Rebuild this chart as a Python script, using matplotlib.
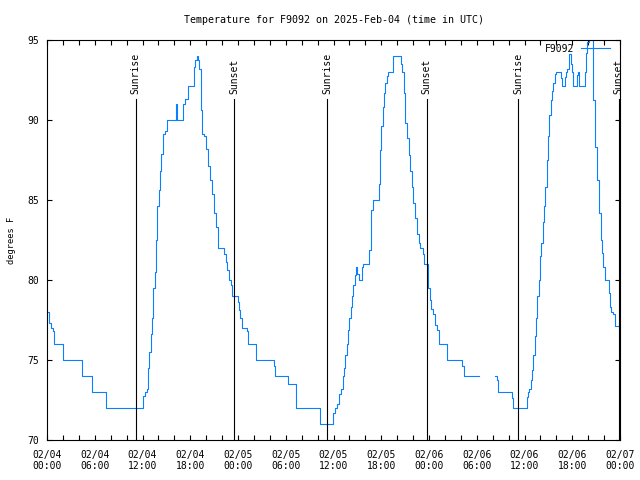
import numpy as np
import pandas as pd
import matplotlib
matplotlib.use("Agg")
import matplotlib.pyplot as plt
import matplotlib.dates as mdates

START = pd.Timestamp("2025-02-04 00:00")
STATION = "F9092"

# hours since 02/04 00:00 UTC, temperature in degrees F (nan = missing data)
hours = [
    0.13, 0.29, 0.50, 0.72, 0.88, 2.05, 4.35, 5.69, 7.41,
    12.10, 12.27, 12.52, 12.69, 12.86, 13.02, 13.19, 13.36, 13.53, 13.69,
    13.86, 14.03, 14.20, 14.36, 14.53, 14.87, 15.12, 16.21, 16.37, 17.13,
    17.38, 17.71, 18.47, 18.63, 18.80, 18.97, 19.14, 19.30, 19.47, 19.72,
    19.97, 20.23, 20.48, 20.73, 20.98, 21.23, 21.48, 22.24, 22.49, 22.65,
    22.82, 23.07, 23.24, 23.99, 24.12, 24.29, 24.54, 25.13, 25.29, 26.30,
    28.56, 28.64, 30.24, 31.24, 31.32, 34.25,
    35.97, 36.14, 36.47, 36.64, 36.90, 37.15, 37.31, 37.48, 37.65, 37.81,
    37.98, 38.15, 38.32, 38.48, 38.65, 38.82, 38.99, 39.16, 39.57, 39.66,
    40.41, 40.49, 40.66, 40.74, 40.91, 40.99, 41.67, 41.83, 42.00, 42.17,
    42.34, 42.50, 42.67, 42.84, 43.51, 44.43, 44.60, 44.85, 45.01, 45.18,
    45.44, 45.60, 45.85, 46.02, 46.27, 46.52, 46.69, 46.86, 47.20, 47.36,
    47.82, 47.90, 48.07, 48.24, 48.49, 48.74, 48.99, 49.25, 50.25, 52.18,
    52.35, 54.27, 54.30, 56.28, 56.53, 56.70, 58.46, 58.54,
    60.26, 60.43, 60.59, 60.76, 60.93, 61.09, 61.26, 61.43, 61.60, 61.77,
    61.93, 62.10, 62.27, 62.44, 62.60, 62.77, 62.94, 63.11, 63.28, 63.44,
    63.61, 63.78, 63.94, 64.53, 64.70, 65.03, 65.20, 65.37, 65.53, 65.62,
    65.79, 65.95, 66.12, 66.54, 66.71, 66.79, 67.55, 67.71, 67.88, 68.05,
    68.47, 68.63, 68.80, 69.05, 69.31, 69.56, 69.72, 69.89, 70.06, 70.56,
    70.73, 70.89, 71.14, 71.32, 71.90,
]
temps = [
    78.0, 77.3, 77.0, 76.8, 76.0, 75.0, 74.0, 73.0, 72.0,
    72.75, 73.0, 73.2, 74.5, 75.5, 76.6, 77.6, 79.5, 80.5, 82.5,
    84.6, 85.6, 86.8, 87.9, 89.1, 89.3, 90.0, 91.0, 90.0, 91.0,
    91.3, 92.1, 93.3, 93.75, 94.0, 93.75, 93.2, 90.6, 89.1, 89.0,
    88.2, 87.1, 86.25, 85.4, 84.2, 83.3, 82.0, 81.6, 81.15, 80.6,
    80.0, 79.7, 79.0, 78.65, 78.13, 77.6, 77.0, 76.8, 76.0, 75.0,
    74.6, 74.0, 73.5, 73.0, 72.0, 71.0,
    71.7, 72.0, 72.25, 72.9, 73.2, 74.0, 74.5, 75.3, 76.0, 76.9,
    77.6, 78.3, 79.0, 79.7, 80.3, 80.8, 80.4, 80.0, 80.8, 81.0,
    81.3, 81.9, 82.9, 84.4, 84.8, 85.0, 86.0, 88.1, 89.6, 90.8,
    91.7, 92.3, 92.75, 93.0, 94.0, 93.5, 93.0, 91.7, 89.8, 88.85,
    87.8, 86.8, 85.8, 84.8, 83.85, 82.9, 82.3, 82.0, 81.6, 81.0,
    80.0, 79.5, 78.75, 78.2, 77.9, 77.2, 76.9, 76.0, 75.0, 74.6,
    74.0, 74.0, np.nan, 74.0, 73.75, 73.0, 72.6, 72.0,
    72.7, 73.0, 73.2, 73.75, 74.4, 75.3, 76.5, 77.6, 79.0, 80.0,
    81.5, 82.3, 83.65, 84.6, 85.8, 87.5, 89.0, 90.3, 91.25, 91.8,
    92.3, 92.9, 93.0, 92.6, 92.1, 92.7, 93.0, 93.2, 93.75, 94.1,
    93.5, 93.0, 92.1, 92.8, 93.0, 92.1, 93.0, 94.2, 94.9, 95.6,
    95.0, 91.25, 88.3, 86.25, 84.2, 82.5, 81.7, 80.8, 80.0, 79.2,
    78.3, 78.0, 77.9, 77.1, 77.1,
]

sunrise_hours = [11.15, 35.18, 59.21]
sunset_hours = [23.55, 47.70, 71.82]

plt.rcParams["font.family"] = "DejaVu Sans Mono"
plt.rcParams["font.size"] = 7

def to_time(h):
    return START + pd.to_timedelta(np.array(h), unit="h")

fig = plt.figure(figsize=(6.4, 4.8), dpi=100)
ax = fig.add_axes([47/640, 40/480, 573/640, 400/480])

ax.plot(to_time(hours), temps, color="#0a80ff", lw=0.8,
        drawstyle="steps-post", label=STATION)

# sunrise / sunset markers
for lst, name in ((sunrise_hours, "Sunrise"), (sunset_hours, "Sunset")):
    for t in to_time(lst):
        ax.plot([t, t], [70, 91.3], color="black", lw=0.8)
        ax.text(t, 91.6, name, rotation=90, ha="center", va="bottom")

ax.set_xlim(to_time([0])[0], to_time([72])[0])
ax.set_ylim(70, 95)
ax.set_yticks(range(70, 96, 5))

ax.xaxis.set_major_locator(mdates.HourLocator(byhour=[0, 6, 12, 18]))
ax.xaxis.set_minor_locator(mdates.HourLocator(interval=2))
ax.xaxis.set_major_formatter(mdates.DateFormatter("%m/%d\n%H:%M"))

ax.tick_params(which="both", direction="in", top=True, right=True,
               width=0.8, length=3.6)
ax.tick_params(axis="y", pad=5.5)
ax.tick_params(axis="x", pad=7)
for s in ax.spines.values():
    s.set_linewidth(0.8)

ax.set_title("Temperature for F9092 on 2025-Feb-04 (time in UTC)",
             fontsize=7.2, pad=12)
ax.set_ylabel("degrees F", fontsize=6.3, labelpad=8)

ax.legend(loc="upper right", bbox_to_anchor=(0.9895, 1.0), borderaxespad=0,
          frameon=False, markerfirst=False, handlelength=3.0,
          handletextpad=0.7)

fig.savefig("out.png", dpi=100)
